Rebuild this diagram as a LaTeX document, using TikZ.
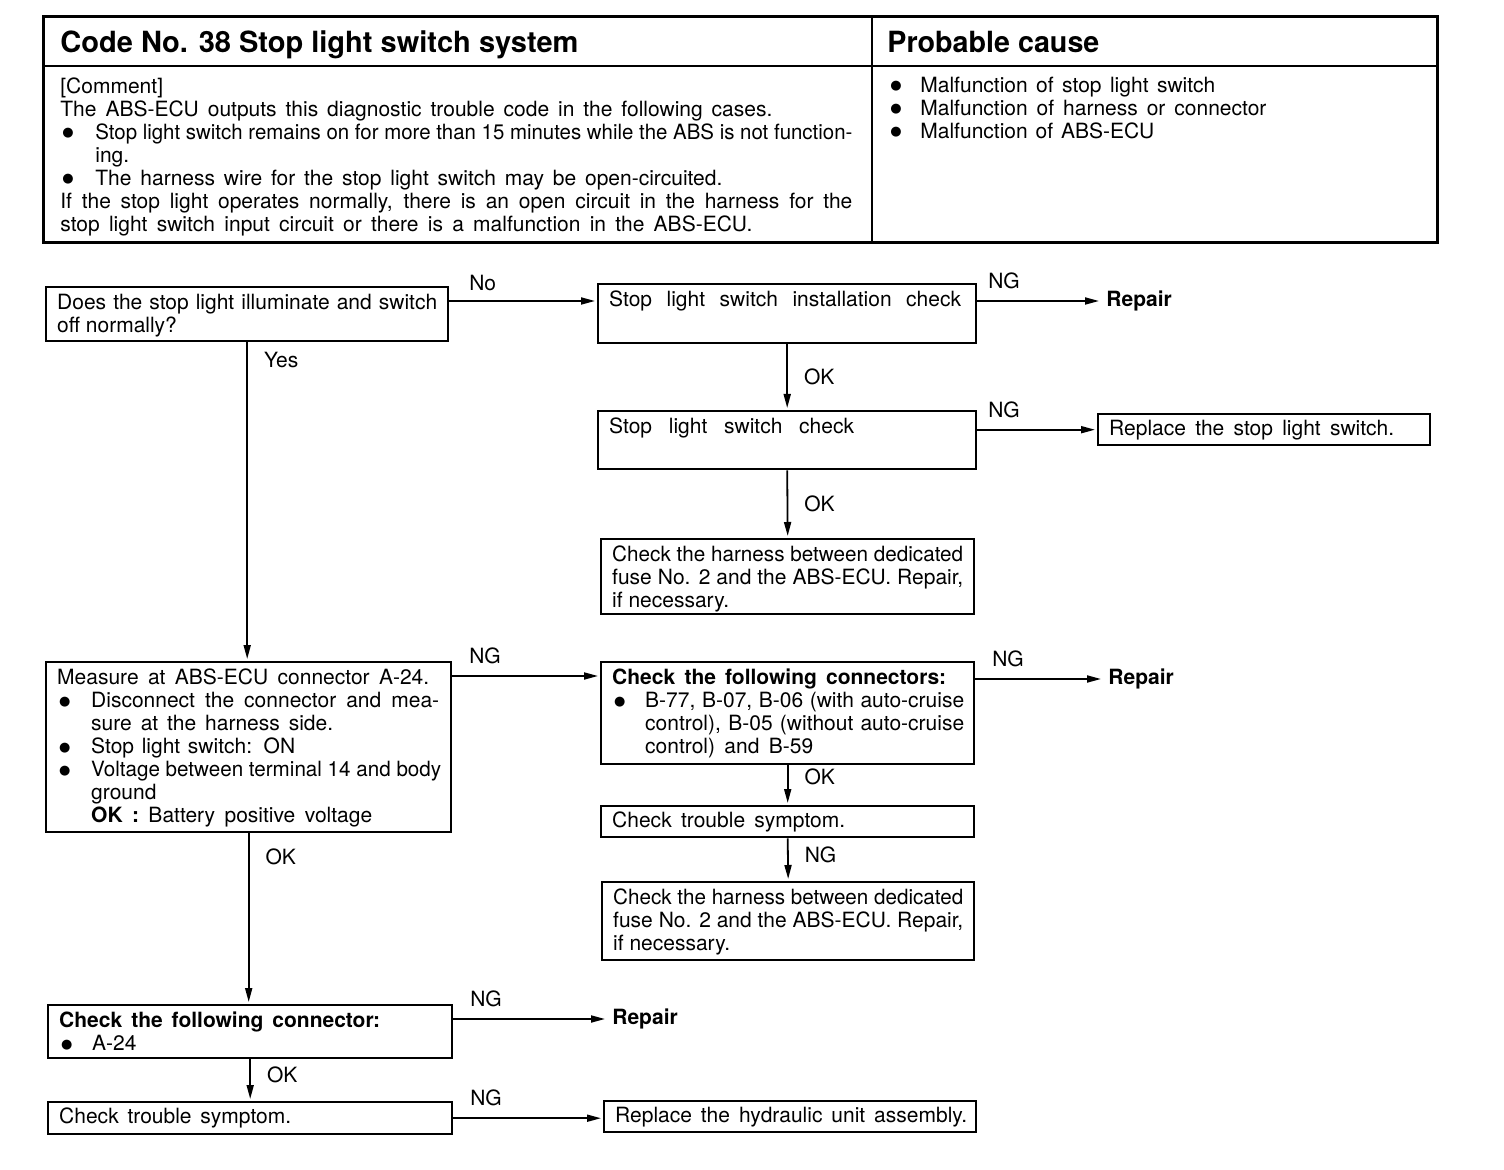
\documentclass[tikz,border=0pt]{standalone}
\usepackage{fontspec}
\setmainfont{TeX Gyre Heros}
\newfontfamily\symfont{DejaVu Sans}
\usepackage{graphicx}
\usetikzlibrary{arrows.meta}
\usetikzlibrary{calc}

\newcommand{\bodyfont}{\fontsize{10.5pt}{11.5pt}\selectfont}
\newcommand{\headfont}{\fontsize{14.6pt}{17pt}\selectfont\bfseries}
% one line set to a given width (spaces stretched, or squeezed if too long)
\newsavebox{\lnbox}
\newcommand{\jl}[2][\linewidth]{\sbox{\lnbox}{#2}\ifdim\wd\lnbox>#1\relax\resizebox{#1}{\height}{\usebox{\lnbox}}\else\makebox[#1][s]{#2}\fi}
\newcommand{\bul}[1][17pt]{\makebox[#1][l]{\hspace{1pt}\raisebox{1.4pt}{\symfont\fontsize{6.5pt}{7pt}\selectfont ●}}}
\newcommand{\ind}[1][17pt]{\hspace*{#1}}
\newcommand{\cell}[3]{\parbox[c][#2][t]{#1}{#3}}

\begin{document}
\begin{tikzpicture}[x=0.5pt, y=-0.5pt,
  box/.style={draw, line width=1.2pt, anchor=north west, inner xsep=5.5pt, inner ysep=3.5pt, font=\bodyfont},
  linebox/.style={box, inner ysep=2pt},
  arr/.style={line width=0.9pt, -{Triangle[length=7pt,width=3.5pt]}, shorten >=1pt},
  lbl/.style={font=\bodyfont, inner sep=0pt, above right, xshift=8pt, yshift=5.5pt},
  lblv/.style={font=\bodyfont, inner sep=0pt, right, xshift=8pt},
  fin/.style={font=\bodyfont\bfseries, anchor=west, inner sep=2.5pt}]
\useasboundingbox (0,0) rectangle (1504,1170);

% header table
\draw[line width=1.5pt] (43,17) rectangle (1437,243);
\draw[line width=1.2pt] (43,66) -- (1437,66) (872,17) -- (872,243);
\node[anchor=base west, inner sep=0pt, font=\headfont] (title) at (60,53) {\jl[259pt]{Code No. 38 Stop light switch system}};
\node[anchor=base west, inner sep=0pt, font=\headfont] (cause) at (887,53) {\jl[106pt]{Probable cause}};
\node[anchor=north west, inner sep=0pt, font=\bodyfont] (comment) at (60,77) {\parbox[t]{396pt}{[Comment]\\
  \jl[356pt]{The ABS-ECU outputs this diagnostic trouble code in the following cases.}\\
  \bul[17.5pt]\jl[378.5pt]{Stop light switch remains on for more than 15 minutes while the ABS is not function-}\\
  \ind[17.5pt]ing.\\
  \bul[17.5pt]\jl[313.5pt]{The harness wire for the stop light switch may be open-circuited.}\\
  \jl[396pt]{If the stop light operates normally, there is an open circuit in the harness for the}\\
  \jl[346pt]{stop light switch input circuit or there is a malfunction in the ABS-ECU.}}};
\node[anchor=north west, inner sep=0pt, font=\bodyfont] (causes) at (888,77) {\parbox[t]{250pt}{%
  \bul[16pt]\jl[147.5pt]{Malfunction of stop light switch}\\
  \bul[16pt]\jl[173pt]{Malfunction of harness or connector}\\
  \bul[16pt]\jl[117pt]{Malfunction of ABS-ECU}}};

% flow chart
\node[box] (ask) at (45,286) {\cell{190pt}{20pt}{\jl[190pt]{Does the stop light illuminate and switch}\\off normally?}};
\node[box] (inst) at (597,283) {\cell{178pt}{22.5pt}{\jl[176pt]{Stop light switch installation check}}};
\node[fin] (rep1) at (1101,301) {Repair};
\node[box] (swchk) at (597,410) {\cell{178pt}{22pt}{\jl[122.5pt]{Stop light switch check}}};
\node[linebox, minimum height=15.5pt] (repsw) at (1097,413) {\parbox{155pt}{\jl[142.5pt]{Replace the stop light switch.}}};
\node[box] (fuse1) at (600,538) {\cell{175.5pt}{30.5pt}{\jl{Check the harness between dedicated}\\
  \jl{fuse No. 2 and the ABS-ECU. Repair,}\\if necessary.}};

\node[box] (meas) at (45,661) {\cell{191.5pt}{78pt}{\jl[186pt]{Measure at ABS-ECU connector A-24.}\\
  \bul\jl[174pt]{Disconnect the connector and mea-}\\
  \ind\jl[121pt]{sure at the harness side.}\\
  \bul\jl[102pt]{Stop light switch: ON}\\
  \bul\jl[175pt]{Voltage between terminal 14 and body}\\
  \ind ground\\
  \ind\jl[140.5pt]{\textbf{OK :} Battery positive voltage}}};
\node[box] (conns) at (600,661) {\cell{175.5pt}{44pt}{\jl[167pt]{\bfseries Check the following connectors:}\\
  \bul[16.5pt]\jl[159.5pt]{B-77, B-07, B-06 (with auto-cruise}\\
  \ind[16.5pt]\jl[159.5pt]{control), B-05 (without auto-cruise}\\
  \ind[16.5pt]\jl[84pt]{control) and B-59}}};
\node[fin] (rep2) at (1103,679) {Repair};
\node[linebox, minimum height=15.5pt] (sym1) at (600,805) {\parbox{175.5pt}{\jl[116.5pt]{Check trouble symptom.}}};
\node[box] (fuse2) at (601,881) {\cell{175pt}{32pt}{\jl{Check the harness between dedicated}\\
  \jl{fuse No. 2 and the ABS-ECU. Repair,}\\if necessary.}};

\node[box] (conn) at (47,1004) {\cell{191pt}{19.5pt}{\jl[160.5pt]{\bfseries Check the following connector:}\\
  \bul[16.5pt]A-24}};
\node[fin] (rep3) at (607,1019) {Repair};
\node[linebox, minimum height=16pt] (sym2) at (47,1101) {\parbox{191pt}{\jl[116pt]{Check trouble symptom.}}};
\node[linebox, minimum height=15.5pt] (hyd) at (603,1100) {\parbox{175pt}{\jl[176pt]{Replace the hydraulic unit assembly.}}};

% connectors
\coordinate (a1) at ([yshift=-7.5pt]ask.north east);
\coordinate (e1) at ([yshift=-7.5pt]meas.north east);
\draw[arr] (a1) -- (a1 -| inst.west) node[lbl, pos=0, xshift=1.5pt, yshift=-1pt]{No};
\draw[arr] (ask.south) -- (ask.south |- meas.north) node[lblv, pos=0.056]{Yes};
\draw[arr] (rep1.west -| inst.east) -- (rep1.west) node[lbl, pos=0, xshift=-3pt]{NG};
\draw[arr] (inst.south) -- (swchk.north) node[lblv, midway]{OK};
\draw[arr] (repsw.west -| swchk.east) -- (repsw.west) node[lbl, pos=0, xshift=-3pt]{NG};
\draw[arr] (swchk.south) -- (fuse1.north) node[lblv, midway]{OK};
\draw[arr] (e1) -- (e1 -| conns.west) node[lbl, pos=0]{NG};
\draw[arr] (rep2.west -| conns.east) -- (rep2.west) node[lbl, pos=0]{NG};
\draw[arr] (conns.south) -- (sym1.north) node[lblv, pos=0.3]{OK};
\draw[arr] (sym1.south) -- (fuse2.north) node[lblv, pos=0.38]{NG};
\draw[arr] (meas.south) -- (meas.south |- conn.north) node[lblv, pos=0.14]{OK};
\draw[arr] (rep3.west -| conn.east) -- (rep3.west) node[lbl, pos=0]{NG};
\draw[arr] (conn.south) -- (conn.south |- sym2.north) node[lblv, pos=0.36]{OK};
\draw[arr] (sym2.east) -- (sym2.east -| hyd.west) node[lbl, pos=0]{NG};
\end{tikzpicture}
\end{document}
